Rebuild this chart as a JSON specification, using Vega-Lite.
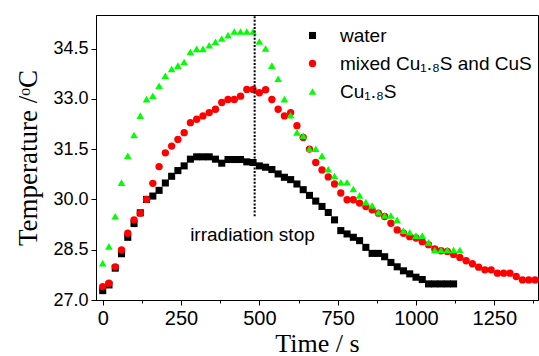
{
  "$schema": "https://vega.github.io/schema/vega-lite/v6.json",
  "width": 442,
  "height": 285,
  "autosize": {"type": "none"},
  "padding": {"left": 96, "top": 15, "right": 1, "bottom": 56},
  "background": "white",
  "config": {
    "view": {"stroke": "black", "strokeWidth": 1},
    "font": "Liberation Sans"
  },
  "datasets": {
    "temps": [
      {"series":"water","time":0,"temp":27.28},{"series":"water","time":20,"temp":27.45},{"series":"water","time":40,"temp":27.95},{"series":"water","time":60,"temp":28.38},{"series":"water","time":80,"temp":28.87},{"series":"water","time":100,"temp":29.28},{"series":"water","time":120,"temp":29.6},{"series":"water","time":140,"temp":30.0},{"series":"water","time":160,"temp":30.1},{"series":"water","time":180,"temp":30.27},{"series":"water","time":200,"temp":30.49},{"series":"water","time":220,"temp":30.69},{"series":"water","time":240,"temp":30.86},{"series":"water","time":260,"temp":31.0},{"series":"water","time":280,"temp":31.2},{"series":"water","time":300,"temp":31.27},{"series":"water","time":320,"temp":31.27},{"series":"water","time":340,"temp":31.27},{"series":"water","time":360,"temp":31.2},{"series":"water","time":380,"temp":31.08},{"series":"water","time":400,"temp":31.19},{"series":"water","time":420,"temp":31.19},{"series":"water","time":440,"temp":31.19},{"series":"water","time":460,"temp":31.12},{"series":"water","time":480,"temp":31.1},{"series":"water","time":500,"temp":31.0},{"series":"water","time":520,"temp":30.96},{"series":"water","time":540,"temp":30.89},{"series":"water","time":560,"temp":30.76},{"series":"water","time":580,"temp":30.66},{"series":"water","time":600,"temp":30.59},{"series":"water","time":620,"temp":30.46},{"series":"water","time":640,"temp":30.29},{"series":"water","time":660,"temp":30.12},{"series":"water","time":680,"temp":29.95},{"series":"water","time":700,"temp":29.79},{"series":"water","time":720,"temp":29.61},{"series":"water","time":740,"temp":29.39},{"series":"water","time":760,"temp":29.07},{"series":"water","time":780,"temp":28.97},{"series":"water","time":800,"temp":28.87},{"series":"water","time":820,"temp":28.77},{"series":"water","time":840,"temp":28.57},{"series":"water","time":860,"temp":28.39},{"series":"water","time":880,"temp":28.39},{"series":"water","time":900,"temp":28.29},{"series":"water","time":920,"temp":28.12},{"series":"water","time":940,"temp":27.99},{"series":"water","time":960,"temp":27.87},{"series":"water","time":980,"temp":27.78},{"series":"water","time":1000,"temp":27.68},{"series":"water","time":1020,"temp":27.61},{"series":"water","time":1040,"temp":27.48},{"series":"water","time":1060,"temp":27.48},{"series":"water","time":1080,"temp":27.48},{"series":"water","time":1100,"temp":27.48},{"series":"water","time":1120,"temp":27.48},
      {"series":"mixed Cu₁.₈S and CuS","time":0,"temp":27.4},{"series":"mixed Cu₁.₈S and CuS","time":20,"temp":27.5},{"series":"mixed Cu₁.₈S and CuS","time":40,"temp":27.99},{"series":"mixed Cu₁.₈S and CuS","time":60,"temp":28.49},{"series":"mixed Cu₁.₈S and CuS","time":80,"temp":28.99},{"series":"mixed Cu₁.₈S and CuS","time":100,"temp":29.39},{"series":"mixed Cu₁.₈S and CuS","time":120,"temp":29.59},{"series":"mixed Cu₁.₈S and CuS","time":140,"temp":30.0},{"series":"mixed Cu₁.₈S and CuS","time":160,"temp":30.48},{"series":"mixed Cu₁.₈S and CuS","time":180,"temp":30.98},{"series":"mixed Cu₁.₈S and CuS","time":200,"temp":31.39},{"series":"mixed Cu₁.₈S and CuS","time":220,"temp":31.59},{"series":"mixed Cu₁.₈S and CuS","time":240,"temp":31.79},{"series":"mixed Cu₁.₈S and CuS","time":260,"temp":31.99},{"series":"mixed Cu₁.₈S and CuS","time":280,"temp":32.29},{"series":"mixed Cu₁.₈S and CuS","time":300,"temp":32.39},{"series":"mixed Cu₁.₈S and CuS","time":320,"temp":32.49},{"series":"mixed Cu₁.₈S and CuS","time":340,"temp":32.59},{"series":"mixed Cu₁.₈S and CuS","time":360,"temp":32.69},{"series":"mixed Cu₁.₈S and CuS","time":380,"temp":32.89},{"series":"mixed Cu₁.₈S and CuS","time":400,"temp":32.98},{"series":"mixed Cu₁.₈S and CuS","time":420,"temp":32.98},{"series":"mixed Cu₁.₈S and CuS","time":440,"temp":33.08},{"series":"mixed Cu₁.₈S and CuS","time":460,"temp":33.28},{"series":"mixed Cu₁.₈S and CuS","time":480,"temp":33.28},{"series":"mixed Cu₁.₈S and CuS","time":500,"temp":33.18},{"series":"mixed Cu₁.₈S and CuS","time":520,"temp":33.27},{"series":"mixed Cu₁.₈S and CuS","time":540,"temp":32.98},{"series":"mixed Cu₁.₈S and CuS","time":560,"temp":32.69},{"series":"mixed Cu₁.₈S and CuS","time":580,"temp":32.49},{"series":"mixed Cu₁.₈S and CuS","time":600,"temp":32.59},{"series":"mixed Cu₁.₈S and CuS","time":620,"temp":32.2},{"series":"mixed Cu₁.₈S and CuS","time":640,"temp":31.85},{"series":"mixed Cu₁.₈S and CuS","time":660,"temp":31.5},{"series":"mixed Cu₁.₈S and CuS","time":680,"temp":31.1},{"series":"mixed Cu₁.₈S and CuS","time":700,"temp":30.88},{"series":"mixed Cu₁.₈S and CuS","time":720,"temp":30.67},{"series":"mixed Cu₁.₈S and CuS","time":740,"temp":30.46},{"series":"mixed Cu₁.₈S and CuS","time":760,"temp":30.19},{"series":"mixed Cu₁.₈S and CuS","time":780,"temp":29.99},{"series":"mixed Cu₁.₈S and CuS","time":800,"temp":29.99},{"series":"mixed Cu₁.₈S and CuS","time":820,"temp":29.89},{"series":"mixed Cu₁.₈S and CuS","time":840,"temp":29.79},{"series":"mixed Cu₁.₈S and CuS","time":860,"temp":29.69},{"series":"mixed Cu₁.₈S and CuS","time":880,"temp":29.59},{"series":"mixed Cu₁.₈S and CuS","time":900,"temp":29.49},{"series":"mixed Cu₁.₈S and CuS","time":920,"temp":29.29},{"series":"mixed Cu₁.₈S and CuS","time":940,"temp":29.09},{"series":"mixed Cu₁.₈S and CuS","time":960,"temp":28.99},{"series":"mixed Cu₁.₈S and CuS","time":980,"temp":28.89},{"series":"mixed Cu₁.₈S and CuS","time":1000,"temp":28.85},{"series":"mixed Cu₁.₈S and CuS","time":1020,"temp":28.74},{"series":"mixed Cu₁.₈S and CuS","time":1040,"temp":28.65},{"series":"mixed Cu₁.₈S and CuS","time":1060,"temp":28.52},{"series":"mixed Cu₁.₈S and CuS","time":1080,"temp":28.47},{"series":"mixed Cu₁.₈S and CuS","time":1100,"temp":28.45},{"series":"mixed Cu₁.₈S and CuS","time":1120,"temp":28.36},{"series":"mixed Cu₁.₈S and CuS","time":1140,"temp":28.27},{"series":"mixed Cu₁.₈S and CuS","time":1160,"temp":28.17},{"series":"mixed Cu₁.₈S and CuS","time":1180,"temp":28.08},{"series":"mixed Cu₁.₈S and CuS","time":1200,"temp":27.98},{"series":"mixed Cu₁.₈S and CuS","time":1220,"temp":27.9},{"series":"mixed Cu₁.₈S and CuS","time":1240,"temp":27.9},{"series":"mixed Cu₁.₈S and CuS","time":1260,"temp":27.8},{"series":"mixed Cu₁.₈S and CuS","time":1280,"temp":27.8},{"series":"mixed Cu₁.₈S and CuS","time":1300,"temp":27.8},{"series":"mixed Cu₁.₈S and CuS","time":1320,"temp":27.7},{"series":"mixed Cu₁.₈S and CuS","time":1340,"temp":27.6},{"series":"mixed Cu₁.₈S and CuS","time":1360,"temp":27.6},{"series":"mixed Cu₁.₈S and CuS","time":1380,"temp":27.6},
      {"series":"Cu₁.₈S","time":0,"temp":28.1},{"series":"Cu₁.₈S","time":20,"temp":28.6},{"series":"Cu₁.₈S","time":40,"temp":29.5},{"series":"Cu₁.₈S","time":60,"temp":30.5},{"series":"Cu₁.₈S","time":80,"temp":31.3},{"series":"Cu₁.₈S","time":100,"temp":31.92},{"series":"Cu₁.₈S","time":120,"temp":32.5},{"series":"Cu₁.₈S","time":140,"temp":32.99},{"series":"Cu₁.₈S","time":160,"temp":33.09},{"series":"Cu₁.₈S","time":180,"temp":33.39},{"series":"Cu₁.₈S","time":200,"temp":33.69},{"series":"Cu₁.₈S","time":220,"temp":33.89},{"series":"Cu₁.₈S","time":240,"temp":33.99},{"series":"Cu₁.₈S","time":260,"temp":34.1},{"series":"Cu₁.₈S","time":280,"temp":34.4},{"series":"Cu₁.₈S","time":300,"temp":34.49},{"series":"Cu₁.₈S","time":320,"temp":34.49},{"series":"Cu₁.₈S","time":340,"temp":34.6},{"series":"Cu₁.₈S","time":360,"temp":34.7},{"series":"Cu₁.₈S","time":380,"temp":34.8},{"series":"Cu₁.₈S","time":400,"temp":34.9},{"series":"Cu₁.₈S","time":420,"temp":35.01},{"series":"Cu₁.₈S","time":440,"temp":35.01},{"series":"Cu₁.₈S","time":460,"temp":35.01},{"series":"Cu₁.₈S","time":480,"temp":35.01},{"series":"Cu₁.₈S","time":500,"temp":34.71},{"series":"Cu₁.₈S","time":520,"temp":34.5},{"series":"Cu₁.₈S","time":540,"temp":33.99},{"series":"Cu₁.₈S","time":560,"temp":33.6},{"series":"Cu₁.₈S","time":580,"temp":32.99},{"series":"Cu₁.₈S","time":600,"temp":32.51},{"series":"Cu₁.₈S","time":620,"temp":32.0},{"series":"Cu₁.₈S","time":640,"temp":31.9},{"series":"Cu₁.₈S","time":660,"temp":31.51},{"series":"Cu₁.₈S","time":680,"temp":31.51},{"series":"Cu₁.₈S","time":700,"temp":31.3},{"series":"Cu₁.₈S","time":720,"temp":30.9},{"series":"Cu₁.₈S","time":740,"temp":30.7},{"series":"Cu₁.₈S","time":760,"temp":30.51},{"series":"Cu₁.₈S","time":780,"temp":30.51},{"series":"Cu₁.₈S","time":800,"temp":30.31},{"series":"Cu₁.₈S","time":820,"temp":30.12},{"series":"Cu₁.₈S","time":840,"temp":29.92},{"series":"Cu₁.₈S","time":860,"temp":29.82},{"series":"Cu₁.₈S","time":880,"temp":29.62},{"series":"Cu₁.₈S","time":900,"temp":29.52},{"series":"Cu₁.₈S","time":920,"temp":29.52},{"series":"Cu₁.₈S","time":940,"temp":29.39},{"series":"Cu₁.₈S","time":960,"temp":29.07},{"series":"Cu₁.₈S","time":980,"temp":29.02},{"series":"Cu₁.₈S","time":1000,"temp":28.92},{"series":"Cu₁.₈S","time":1020,"temp":28.92},{"series":"Cu₁.₈S","time":1040,"temp":28.72},{"series":"Cu₁.₈S","time":1060,"temp":28.49},{"series":"Cu₁.₈S","time":1080,"temp":28.49},{"series":"Cu₁.₈S","time":1100,"temp":28.49},{"series":"Cu₁.₈S","time":1120,"temp":28.49},{"series":"Cu₁.₈S","time":1140,"temp":28.49}
    ],
    "stopline": [{"time": 485, "temp": 29.5, "temp_end": 35.5}],
    "stoplabel": [{"time": 478, "temp": 28.95, "label": "irradiation stop"}]
  },
  "layer": [
    {
      "data": {"name": "temps"},
      "mark": {"type": "point", "filled": true, "opacity": 1, "strokeWidth": 0},
      "encoding": {
        "x": {
          "field": "time", "type": "quantitative",
          "scale": {"domain": [-21.4, 1389.5], "nice": false, "zero": false},
          "axis": {
            "title": "Time / s", "titleFont": "Liberation Serif", "titleFontSize": 26, "titleFontWeight": "normal", "titleColor": "black", "titlePadding": 2,
            "values": [0,125,250,375,500,625,750,875,1000,1125,1250,1375],
            "format": "d",
            "labelExpr": "datum.value % 250 === 0 ? datum.label : ''",
            "labelFont": "Liberation Sans", "labelFontSize": 20, "labelColor": "black", "labelPadding": 3, "labelFlush": false, "labelOverlap": false,
            "tickColor": "black", "tickSize": {"condition": {"test": "datum.value % 250 === 0", "value": 5}, "value": 3},
            "domainColor": "black", "grid": false
          }
        },
        "y": {
          "field": "temp", "type": "quantitative",
          "scale": {"domain": [27.0, 35.5], "nice": false, "zero": false},
          "axis": {
            "title": "Temperature /ᵒC", "titleFont": "Liberation Serif", "titleFontSize": 27, "titleFontWeight": "normal", "titleColor": "black", "titlePadding": 10,
            "values": [27,27.75,28.5,29.25,30,30.75,31.5,32.25,33,33.75,34.5,35.25],
            "format": ".1f",
            "labelExpr": "(datum.value * 4) % 6 === 0 ? datum.label : ''",
            "labelFont": "Liberation Sans", "labelFontSize": 18, "labelColor": "black", "labelPadding": 3, "labelFlush": false, "labelOverlap": false,
            "tickColor": "black", "tickSize": {"condition": {"test": "(datum.value * 4) % 6 === 0", "value": 5}, "value": 3},
            "domainColor": "black", "grid": false
          }
        },
        "color": {
          "field": "series", "type": "nominal",
          "scale": {"domain": ["water", "mixed Cu₁.₈S and CuS", "Cu₁.₈S"], "range": ["#000000", "#ff0000", "#00ff00"]},
          "legend": {
            "orient": "none", "legendX": 207, "legendY": 11, "title": null, "padding": 0,
            "labelFont": "Liberation Sans", "labelFontSize": 19, "labelColor": "black", "labelOffset": 18, "labelLimit": 0, "rowPadding": 8
          }
        },
        "shape": {
          "field": "series", "type": "nominal",
          "scale": {"domain": ["water", "mixed Cu₁.₈S and CuS", "Cu₁.₈S"], "range": ["square", "circle", "triangle-up"]}
        },
        "size": {
          "field": "series", "type": "nominal",
          "scale": {"domain": ["water", "mixed Cu₁.₈S and CuS", "Cu₁.₈S"], "range": [50, 58, 78]}
        }
      }
    },
    {
      "data": {"name": "stopline"},
      "mark": {"type": "rule", "color": "black", "strokeWidth": 2, "strokeDash": [2, 1.6]},
      "encoding": {
        "x": {"field": "time", "type": "quantitative"},
        "y": {"field": "temp", "type": "quantitative"},
        "y2": {"field": "temp_end"}
      }
    },
    {
      "data": {"name": "stoplabel"},
      "mark": {"type": "text", "font": "Liberation Sans", "fontSize": 19, "color": "black", "align": "center", "baseline": "middle"},
      "encoding": {
        "x": {"field": "time", "type": "quantitative"},
        "y": {"field": "temp", "type": "quantitative"},
        "text": {"field": "label"}
      }
    }
  ]
}
